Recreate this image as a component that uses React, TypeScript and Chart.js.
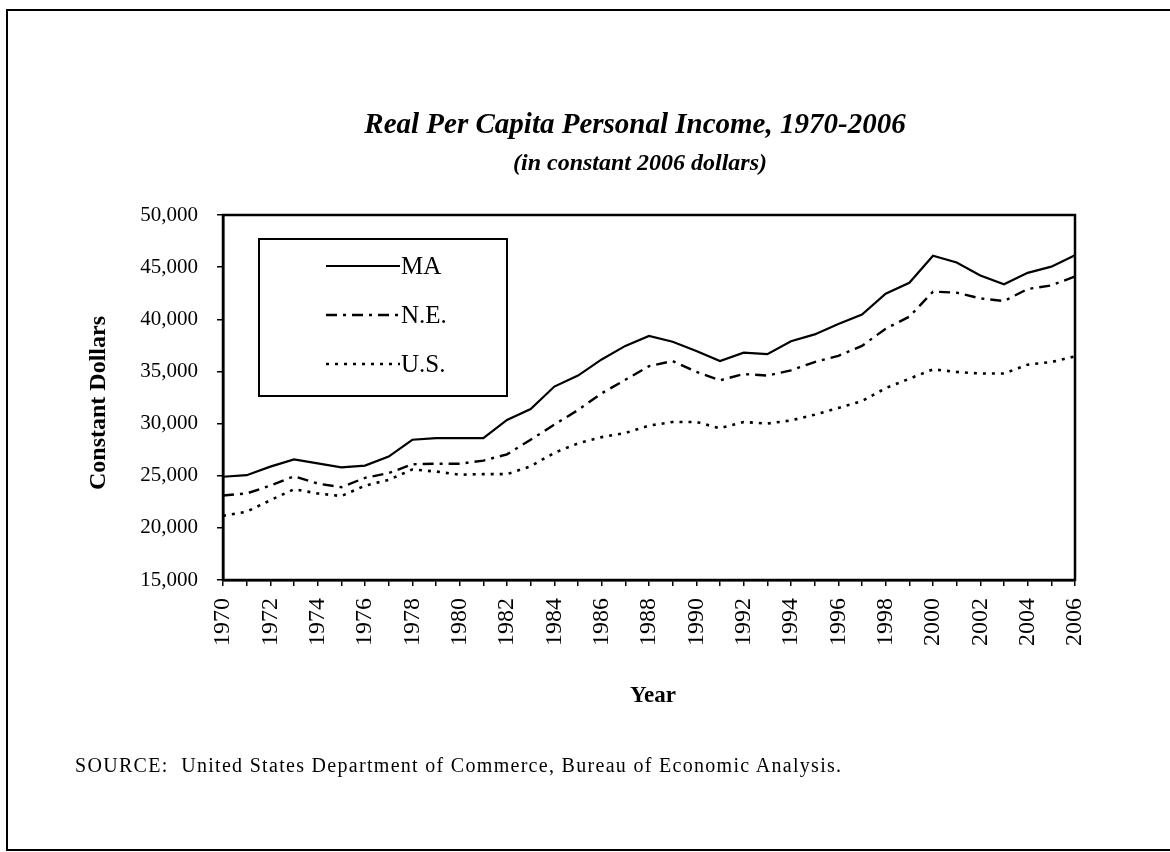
import React, { useEffect, useRef } from "react";
import { Chart, registerables } from "chart.js";

Chart.register(...registerables);

// ---- Data ----
const years: string[] = [
  "1970", "1971", "1972", "1973", "1974", "1975", "1976", "1977", "1978", "1979",
  "1980", "1981", "1982", "1983", "1984", "1985", "1986", "1987", "1988", "1989",
  "1990", "1991", "1992", "1993", "1994", "1995", "1996", "1997", "1998", "1999",
  "2000", "2001", "2002", "2003", "2004", "2005", "2006",
];

const maIncome: number[] = [
  24900, 25050, 25870, 26570, 26190, 25800, 25970, 26830, 28450, 28600,
  28600, 28600, 30350, 31400, 33550, 34600, 36150, 37450, 38400, 37850,
  36950, 36000, 36800, 36650, 37900, 38550, 39550, 40450, 42450, 43500,
  46100, 45450, 44200, 43350, 44450, 45050, 46150,
];

const neIncome: number[] = [
  23100, 23300, 24050, 24950, 24250, 23900, 24800, 25250, 26100, 26150,
  26150, 26450, 27050, 28450, 29900, 31300, 32900, 34200, 35500, 36000,
  34950, 34150, 34750, 34600, 35100, 35900, 36500, 37450, 39100, 40250,
  42650, 42550, 42000, 41750, 42900, 43250, 44100,
];

const usIncome: number[] = [
  21150, 21550, 22650, 23700, 23300, 23050, 24050, 24600, 25600, 25400,
  25100, 25150, 25150, 25900, 27200, 28100, 28700, 29100, 29800, 30150,
  30150, 29550, 30150, 30000, 30300, 30850, 31500, 32150, 33400, 34300,
  35200, 34950, 34800, 34800, 35650, 35900, 36450,
];

const seriesNames: string[] = ["MA", "N.E.", "U.S."];

const yMin = 15000;
const yMax = 50000;
const yStep = 5000;

const titleText = "Real Per Capita Personal Income, 1970-2006";
const subtitleText = "(in constant 2006 dollars)";
const yAxisTitle = "Constant Dollars";
const xAxisTitle = "Year";
const sourceText = "SOURCE:  United States Department of Commerce, Bureau of Economic Analysis.";

const SERIF = '"Liberation Serif", "Times New Roman", serif';

// Legend drawn inside the plot area, framed
const insetLegend = {
  id: "insetLegend",
  afterDraw(chart: any) {
    const ctx = chart.ctx as CanvasRenderingContext2D;
    const a = chart.chartArea;
    const bx = a.left + 36;
    const by = a.top + 24;
    const bw = 248;
    const bh = 157;
    ctx.save();
    ctx.setLineDash([]);
    ctx.lineWidth = 2;
    ctx.strokeStyle = "#000";
    ctx.strokeRect(bx, by, bw, bh);
    chart.data.datasets.forEach((ds: any, i: number) => {
      const y = by + 27 + i * 49;
      ctx.beginPath();
      ctx.setLineDash(ds.borderDash || []);
      ctx.lineWidth = ds.borderWidth;
      ctx.strokeStyle = ds.borderColor;
      ctx.moveTo(bx + 67, y);
      ctx.lineTo(bx + 141, y);
      ctx.stroke();
      ctx.setLineDash([]);
      ctx.fillStyle = "#000";
      ctx.font = `25px ${SERIF}`;
      ctx.textBaseline = "middle";
      ctx.textAlign = "left";
      ctx.fillText(ds.label, bx + 142, y + 1);
    });
    ctx.restore();
  },
};

// Full box around plot area
const plotFrame = {
  id: "plotFrame",
  afterDraw(chart: any) {
    const ctx = chart.ctx as CanvasRenderingContext2D;
    const a = chart.chartArea;
    ctx.save();
    ctx.setLineDash([]);
    ctx.lineWidth = 2.5;
    ctx.strokeStyle = "#000";
    ctx.strokeRect(a.left, a.top, a.right - a.left, a.bottom - a.top);
    ctx.restore();
  },
};

export default function App() {
  const canvasRef = useRef<HTMLCanvasElement | null>(null);

  useEffect(() => {
    if (!canvasRef.current) return;
    const chart = new Chart(canvasRef.current, {
      type: "line",
      data: {
        labels: years,
        datasets: [
          {
            label: seriesNames[0],
            data: maIncome,
            borderColor: "#000",
            borderWidth: 2.2,
            borderDash: [],
            pointRadius: 0,
            tension: 0,
            fill: false,
          },
          {
            label: seriesNames[1],
            data: neIncome,
            borderColor: "#000",
            borderWidth: 2.4,
            borderDash: [11, 6, 3, 6],
            pointRadius: 0,
            tension: 0,
            fill: false,
          },
          {
            label: seriesNames[2],
            data: usIncome,
            borderColor: "#000",
            borderWidth: 2.6,
            borderDash: [3, 6],
            pointRadius: 0,
            tension: 0,
            fill: false,
          },
        ],
      },
      options: {
        animation: false,
        responsive: false,
        devicePixelRatio: 1,
        layout: { padding: { top: 215, right: 95, left: 0, bottom: 0 } },
        plugins: {
          legend: { display: false },
          tooltip: { enabled: false },
          title: { display: false },
        },
        scales: {
          x: {
            type: "category",
            offset: false,
            grid: {
              display: true,
              drawOnChartArea: false,
              drawTicks: true,
              tickLength: 6,
              color: "#000",
              lineWidth: 1.5,
            },
            border: { display: true, color: "#000", width: 2.5 },
            ticks: {
              autoSkip: false,
              maxRotation: 90,
              minRotation: 90,
              padding: 12,
              color: "#000",
              font: { family: SERIF, size: 24 },
              callback: (_v: any, i: number) => (i % 2 === 0 ? years[i] : ""),
            },
            afterFit: (s: any) => {
              s.height = 272;
            },
          },
          y: {
            type: "linear",
            min: yMin,
            max: yMax,
            grid: {
              display: true,
              drawOnChartArea: false,
              drawTicks: true,
              tickLength: 6,
              color: "#000",
              lineWidth: 1.5,
            },
            border: { display: true, color: "#000", width: 2.5 },
            ticks: {
              stepSize: yStep,
              padding: 19,
              color: "#000",
              font: { family: SERIF, size: 21 },
              callback: (v: any) => Number(v).toLocaleString("en-US"),
            },
            afterFit: (s: any) => {
              s.width = 223;
            },
          },
        },
      },
      plugins: [plotFrame, insetLegend],
    });
    return () => chart.destroy();
  }, []);

  const abs: React.CSSProperties = {
    position: "absolute",
    whiteSpace: "nowrap",
    lineHeight: 1,
    color: "#000",
    fontFamily: SERIF,
  };

  return (
    <div
      style={{
        position: "absolute",
        left: 0,
        top: 0,
        width: 1170,
        height: 852,
        overflow: "hidden",
        background: "#fff",
      }}
    >
      <div
        style={{
          position: "absolute",
          left: 6,
          top: 9,
          width: 1164,
          height: 842,
          boxSizing: "border-box",
          borderLeft: "2px solid #000",
          borderTop: "2px solid #000",
          borderBottom: "2px solid #000",
        }}
      />
      <canvas
        ref={canvasRef}
        width={1170}
        height={852}
        style={{ position: "absolute", left: 0, top: 0, width: 1170, height: 852 }}
      />
      <div
        style={{
          ...abs,
          left: 635,
          top: 109,
          transform: "translateX(-50%)",
          fontSize: 29,
          fontWeight: "bold",
          fontStyle: "italic",
        }}
      >
        {titleText}
      </div>
      <div
        style={{
          ...abs,
          left: 640,
          top: 150,
          transform: "translateX(-50%)",
          fontSize: 24,
          fontWeight: "bold",
          fontStyle: "italic",
        }}
      >
        {subtitleText}
      </div>
      <div
        style={{
          ...abs,
          left: 97,
          top: 403,
          transform: "translate(-50%, -50%) rotate(-90deg)",
          fontSize: 24,
          fontWeight: "bold",
        }}
      >
        {yAxisTitle}
      </div>
      <div
        style={{
          ...abs,
          left: 653,
          top: 683,
          transform: "translateX(-50%)",
          fontSize: 23,
          fontWeight: "bold",
        }}
      >
        {xAxisTitle}
      </div>
      <div
        style={{
          ...abs,
          left: 75,
          top: 755,
          fontSize: 20,
          letterSpacing: "1.3px",
          whiteSpace: "pre",
        }}
      >
        {sourceText}
      </div>
    </div>
  );
}
